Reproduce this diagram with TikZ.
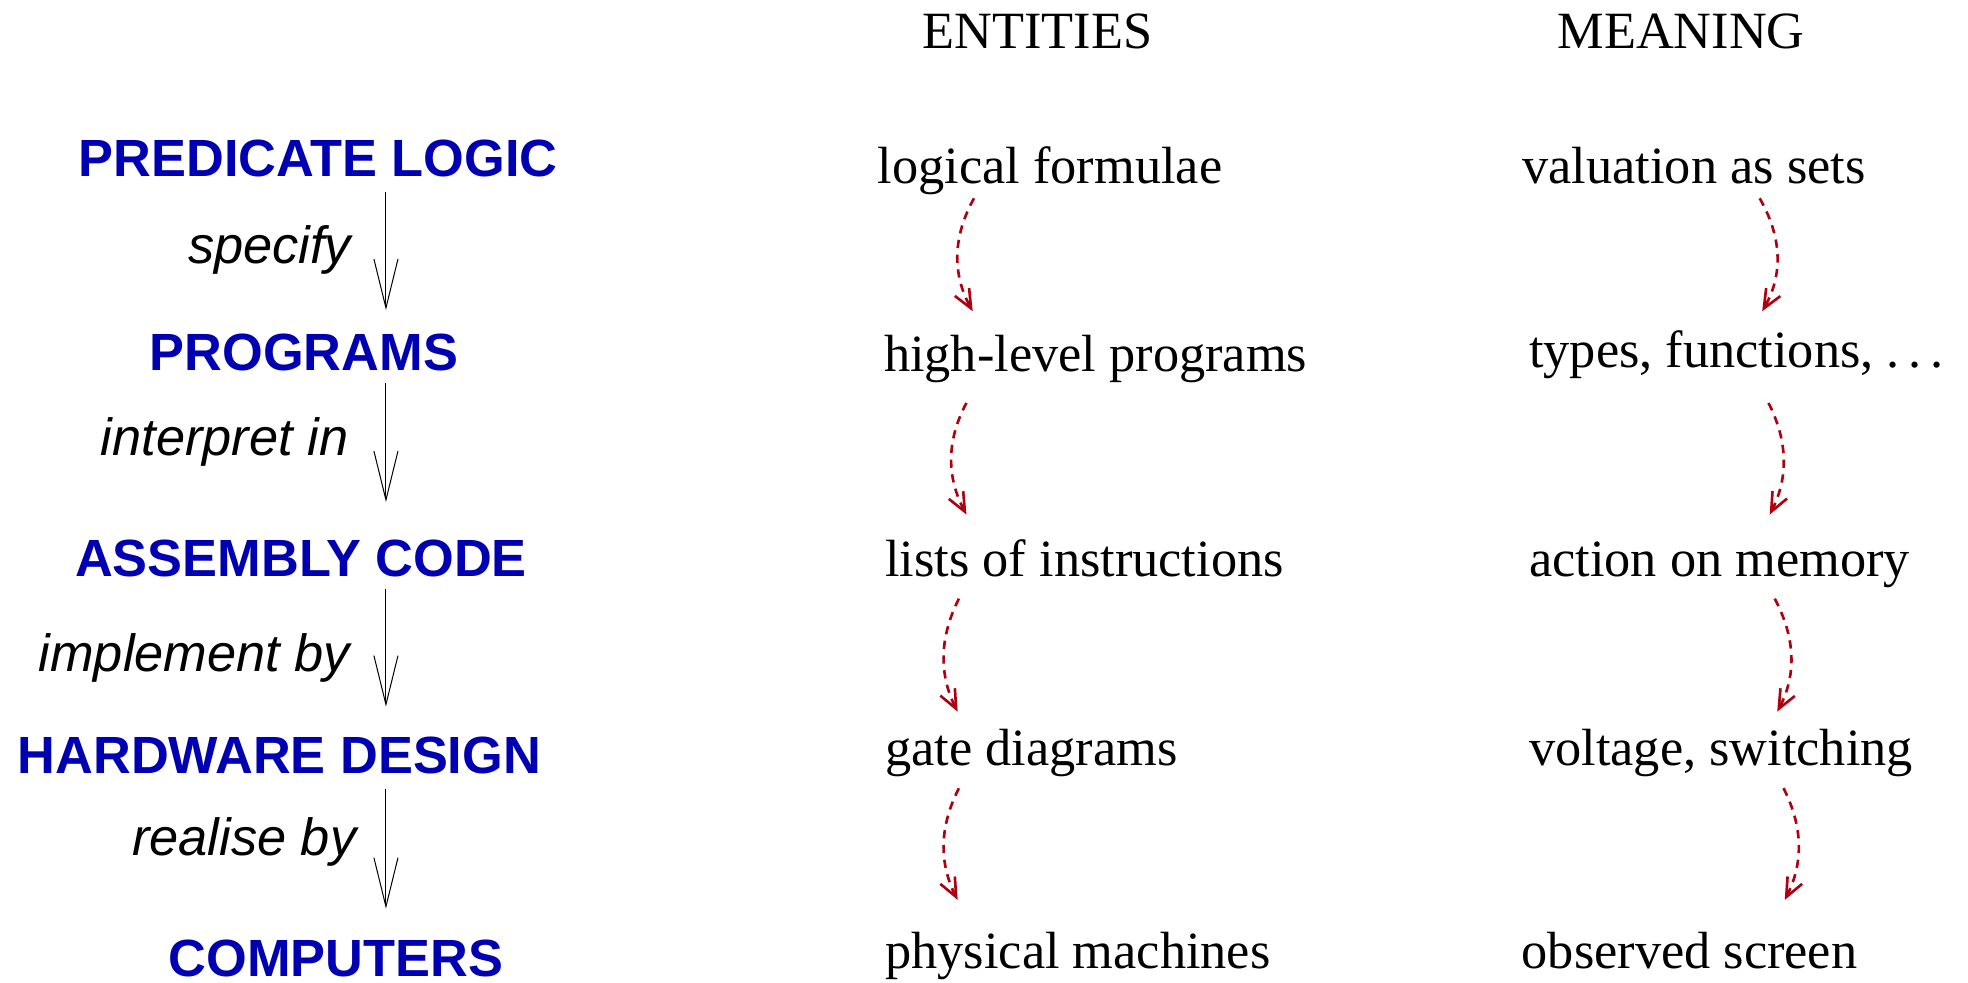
\documentclass[tikz,border=0pt]{standalone}
\usepackage{fontspec}
\setmainfont{Liberation Serif}
\setsansfont{Liberation Sans}
\usetikzlibrary{arrows.meta}
\definecolor{lblue}{RGB}{0,0,178}
\definecolor{dred}{RGB}{175,0,15}
\tikzset{
  lvl/.style={anchor=base west, inner sep=0pt, font=\fontsize{20.85}{25}\selectfont\sffamily\bfseries, text=lblue},
  verb/.style={anchor=base west, inner sep=0pt, font=\fontsize{20.85}{25}\selectfont\sffamily\itshape},
  ent/.style={anchor=base west, inner sep=0pt, font=\fontsize{20.85}{25}\selectfont},
  downarr/.style={line width=0.4pt, -{Straight Barb[length=19.5pt,width=9.6pt]}},
  refine/.style={dred, line width=1.05pt, dash pattern=on 3.3pt off 2.6pt, -{Straight Barb[length=7.5pt,width=6.5pt]}},
}
\begin{document}
\begin{tikzpicture}[x=0.5pt,y=-0.5pt]
\useasboundingbox (0,0) rectangle (1568,783);

% headers
\node[ent] (hent) at (734.6,38.5) {ENTITIES};
\node[ent] (hmean) at (1240.6,38.5) {MEANING};

% left column
\node[lvl] (l1) at (62.5,141) {PREDICATE LOGIC};
\node[lvl] (l2) at (119,295) {PROGRAMS};
\node[lvl] (l3) at (59.5,459) {ASSEMBLY CODE};
\node[lvl] (l4) at (13.7,616) {HARDWARE DESIGN};
\node[lvl] (l5) at (134,778) {COMPUTERS};

\node[verb] (v1) at (149.4,210) {specify};
\node[verb] (v2) at (80,363) {interpret in};
\node[verb] (v3) at (30.5,535) {implement by};
\node[verb] (v4) at (105,682) {realise by};

\coordinate (a1s) at (307.5,153); \coordinate (a1t) at (307.5,247);
\coordinate (a2s) at (307.5,305); \coordinate (a2t) at (307.5,400);
\coordinate (a3s) at (307.5,469); \coordinate (a3t) at (307.5,563);
\coordinate (a4s) at (307.5,629); \coordinate (a4t) at (307.5,724);
\draw[downarr] (a1s) -- (a1t);
\draw[downarr] (a2s) -- (a2t);
\draw[downarr] (a3s) -- (a3t);
\draw[downarr] (a4s) -- (a4t);

% entities column
\node[ent] (e1) at (699,146) {logical formulae};
\node[ent] (e2) at (704,296) {high-level programs};
\node[ent] (e3) at (705,459.5) {lists of instructions};
\node[ent] (e4) at (705,609.5) {gate diagrams};
\node[ent] (e5) at (705,772) {physical machines};

% meaning column
\node[ent] (m1) at (1212.6,146) {valuation as sets};
\node[ent] (m2) at (1218,293) {types, functions, .\kern0.165em.\kern0.165em.};
\node[ent] (m3) at (1218,459.5) {action on memory};
\node[ent] (m4) at (1218,609.5) {voltage, switching};
\node[ent] (m5) at (1212,772) {observed screen};

% entity refinements
\coordinate (e1s) at (776,158);  \coordinate (e1t) at (775,248);
\coordinate (e2s) at (770,321);  \coordinate (e2t) at (770,410);
\coordinate (e3s) at (764,477);  \coordinate (e3t) at (763,567);
\coordinate (e4s) at (764,628);  \coordinate (e4t) at (763,717);
\draw[refine] (e1s) .. controls +(-16.7,30) and +(-16.7,-30) .. (e1t);
\draw[refine] (e2s) .. controls +(-16,30) and +(-16,-30) .. (e2t);
\draw[refine] (e3s) .. controls +(-15.3,30) and +(-15.3,-30) .. (e3t);
\draw[refine] (e4s) .. controls +(-15.3,30) and +(-15.3,-30) .. (e4t);

% meaning refinements
\coordinate (m1s) at (1402,158); \coordinate (m1t) at (1404,248);
\coordinate (m2s) at (1409,321); \coordinate (m2t) at (1410,410);
\coordinate (m3s) at (1414,477); \coordinate (m3t) at (1416,567);
\coordinate (m4s) at (1421,628); \coordinate (m4t) at (1422,717);
\draw[refine] (m1s) .. controls +(17.3,30) and +(17.3,-30) .. (m1t);
\draw[refine] (m2s) .. controls +(15.3,30) and +(15.3,-30) .. (m2t);
\draw[refine] (m3s) .. controls +(16,30) and +(16,-30) .. (m3t);
\draw[refine] (m4s) .. controls +(15.3,30) and +(15.3,-30) .. (m4t);
\end{tikzpicture}
\end{document}
